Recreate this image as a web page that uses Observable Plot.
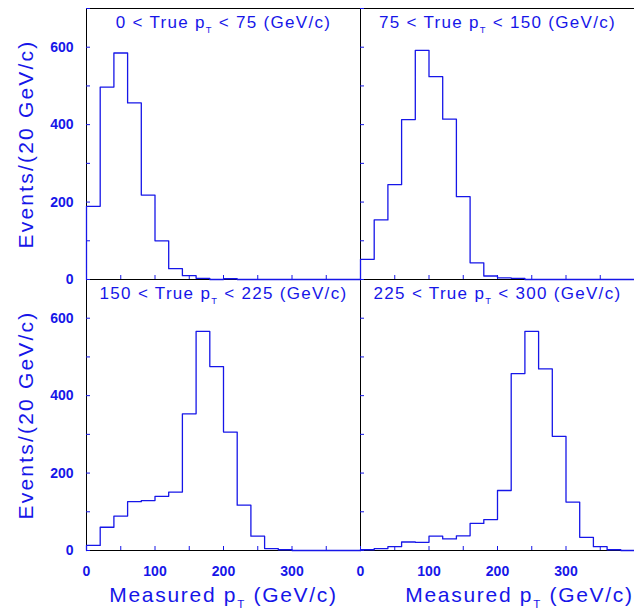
<!DOCTYPE html>
<html>
<head>
<meta charset="utf-8">
<script src="https://cdn.jsdelivr.net/npm/d3@7"></script>
<script src="https://cdn.jsdelivr.net/npm/@observablehq/plot@0.6"></script>
<style>
  html, body { margin: 0; padding: 0; background: #fff; }
  #chart svg g[aria-label="text"] text { letter-spacing: 1.3px; }
</style>
</head>
<body>
<div id="chart"></div>
<script>
// ---- data ----
const binStarts = [0, 20, 40, 60, 80, 100, 120, 140, 160, 180, 200, 220, 240, 260, 280, 300, 320, 340, 360, 380];
const binWidth = 20;

const panelTitles = [
  "0 < True p_T < 75 (GeV/c)",
  "75 < True p_T < 150 (GeV/c)",
  "150 < True p_T < 225 (GeV/c)",
  "225 < True p_T < 300 (GeV/c)"
];
const panelCols = [0, 1, 0, 1];
const panelRows = [0, 0, 1, 1];

const counts0to75    = [189, 497, 585, 456, 218, 100, 28, 10, 3, 0, 2, 0, 0, 0, 0, 0, 0, 0, 0, 0];
const counts75to150  = [52, 154, 245, 413, 592, 524, 414, 214, 43, 9, 4, 3, 0, 0, 0, 0, 0, 0, 0, 0];
const counts150to225 = [13, 60, 89, 126, 129, 140, 151, 353, 566, 475, 306, 117, 37, 5, 2, 0, 0, 0, 0, 0];
const counts225to300 = [2, 5, 10, 22, 21, 37, 30, 38, 70, 80, 155, 457, 566, 469, 295, 125, 34, 10, 2, 0];

const yTicks  = [0, 100, 200, 300, 400, 500, 600, 700];
const yLabels = [0, 200, 400, 600];
const xTicks  = [0, 50, 100, 150, 200, 250, 300, 350, 400];
const xLabels = [0, 100, 200, 300];

const yTitle = "Events/(20 GeV/c)";
const xTitle = "Measured p_T (GeV/c)";

// ---- build tables ----
const allCounts = [counts0to75, counts75to150, counts150to225, counts225to300];
const outline = [];
allCounts.forEach((counts, p) => {
  outline.push({panel: p, col: panelCols[p], row: panelRows[p], x: binStarts[0], y: 0});
  counts.forEach((c, i) => outline.push({panel: p, col: panelCols[p], row: panelRows[p], x: binStarts[i], y: c}));
  outline.push({panel: p, col: panelCols[p], row: panelRows[p], x: binStarts[binStarts.length - 1] + binWidth, y: 0});
});
const titles = panelTitles.map((t, p) => ({col: panelCols[p], row: panelRows[p], text: t}));
const yTitles = [{col: 0, row: 0, text: yTitle}, {col: 0, row: 1, text: yTitle}];
const xTitleLeft = [{col: 0, row: 1, text: xTitle}];
const xTitleRight = [{col: 1, row: 1, text: xTitle}];

const blue = "#1616e8";
const font = "'Liberation Sans', Arial, Helvetica, sans-serif";

const chart = Plot.plot({
  width: 634,
  height: 612,
  marginLeft: 86,
  marginRight: 0,
  marginTop: 7,
  marginBottom: 62,
  style: {fontFamily: font, background: "#fff", color: blue, overflow: "visible"},
  fx: {domain: [0, 1], padding: 0, axis: null},
  fy: {domain: [0, 1], padding: 0, axis: null},
  x: {domain: [0, 400], axis: null},
  y: {domain: [0, 700], axis: null},
  marks: [
    Plot.ruleX([0], {stroke: "#000", strokeWidth: 1}),
    Plot.ruleY([0], {stroke: "#000", strokeWidth: 1}),
    Plot.ruleY([700], {stroke: "#000", strokeWidth: 1}),
    Plot.axisY(yTicks, {anchor: "left", tickSize: -4, stroke: blue, fill: "none", label: null, facetAnchor: null}),
    Plot.axisX(xTicks, {anchor: "bottom", tickSize: -4, stroke: blue, fill: "none", label: null, facetAnchor: null}),
    Plot.axisY(yLabels, {anchor: "left", tickSize: 0, tickPadding: 13, fill: blue, fontSize: 14, fontWeight: "bold", label: null, facetAnchor: "left"}),
    Plot.axisX(xLabels, {anchor: "bottom", tickSize: 0, tickPadding: 16, fill: blue, fontSize: 14, fontWeight: "bold", label: null, facetAnchor: "bottom"}),
    Plot.line(outline, {x: "x", y: "y", z: "panel", fx: "col", fy: "row", curve: "step-after", stroke: blue, strokeWidth: 1.3}),
    Plot.text(titles, {fx: "col", fy: "row", text: "text", frameAnchor: "top", textAnchor: "middle", lineAnchor: "middle", dy: 14.5, fill: blue, fontSize: 17}),
    Plot.text(yTitles, {fx: "col", fy: "row", text: "text", frameAnchor: "left", textAnchor: "middle", lineAnchor: "middle", dx: -60, rotate: -90, fill: blue, fontSize: 21}),
    Plot.text(xTitleLeft, {fx: "col", fy: "row", text: "text", frameAnchor: "bottom", textAnchor: "middle", lineAnchor: "middle", dy: 45, fill: blue, fontSize: 21}),
    Plot.text(xTitleRight, {fx: "col", fy: "row", text: "text", frameAnchor: "bottom", textAnchor: "middle", lineAnchor: "middle", dy: 45, dx: 22, fill: blue, fontSize: 21})
  ]
});
document.getElementById("chart").appendChild(chart);

// spacing of the wide titles, and a real subscript T in "p_T"
const NS = "http://www.w3.org/2000/svg";
for (const t of chart.querySelectorAll("text")) {
  const s = t.textContent;
  if (s.startsWith("Events")) t.style.letterSpacing = "2.2px";
  if (s.startsWith("Measured")) t.style.letterSpacing = "1.7px";
  const i = s.indexOf("p_T");
  if (i < 0) continue;
  const fs = parseFloat(getComputedStyle(t).fontSize) || 16;
  t.textContent = "";
  const a = document.createElementNS(NS, "tspan");
  a.textContent = s.slice(0, i + 1);
  const b = document.createElementNS(NS, "tspan");
  b.textContent = "T";
  b.setAttribute("dy", (fs * 0.28).toFixed(2));
  b.setAttribute("font-size", (fs * 0.55).toFixed(2));
  const c = document.createElementNS(NS, "tspan");
  c.textContent = s.slice(i + 3);
  c.setAttribute("dy", (-fs * 0.28).toFixed(2));
  t.append(a, b, c);
}
</script>
</body>
</html>
